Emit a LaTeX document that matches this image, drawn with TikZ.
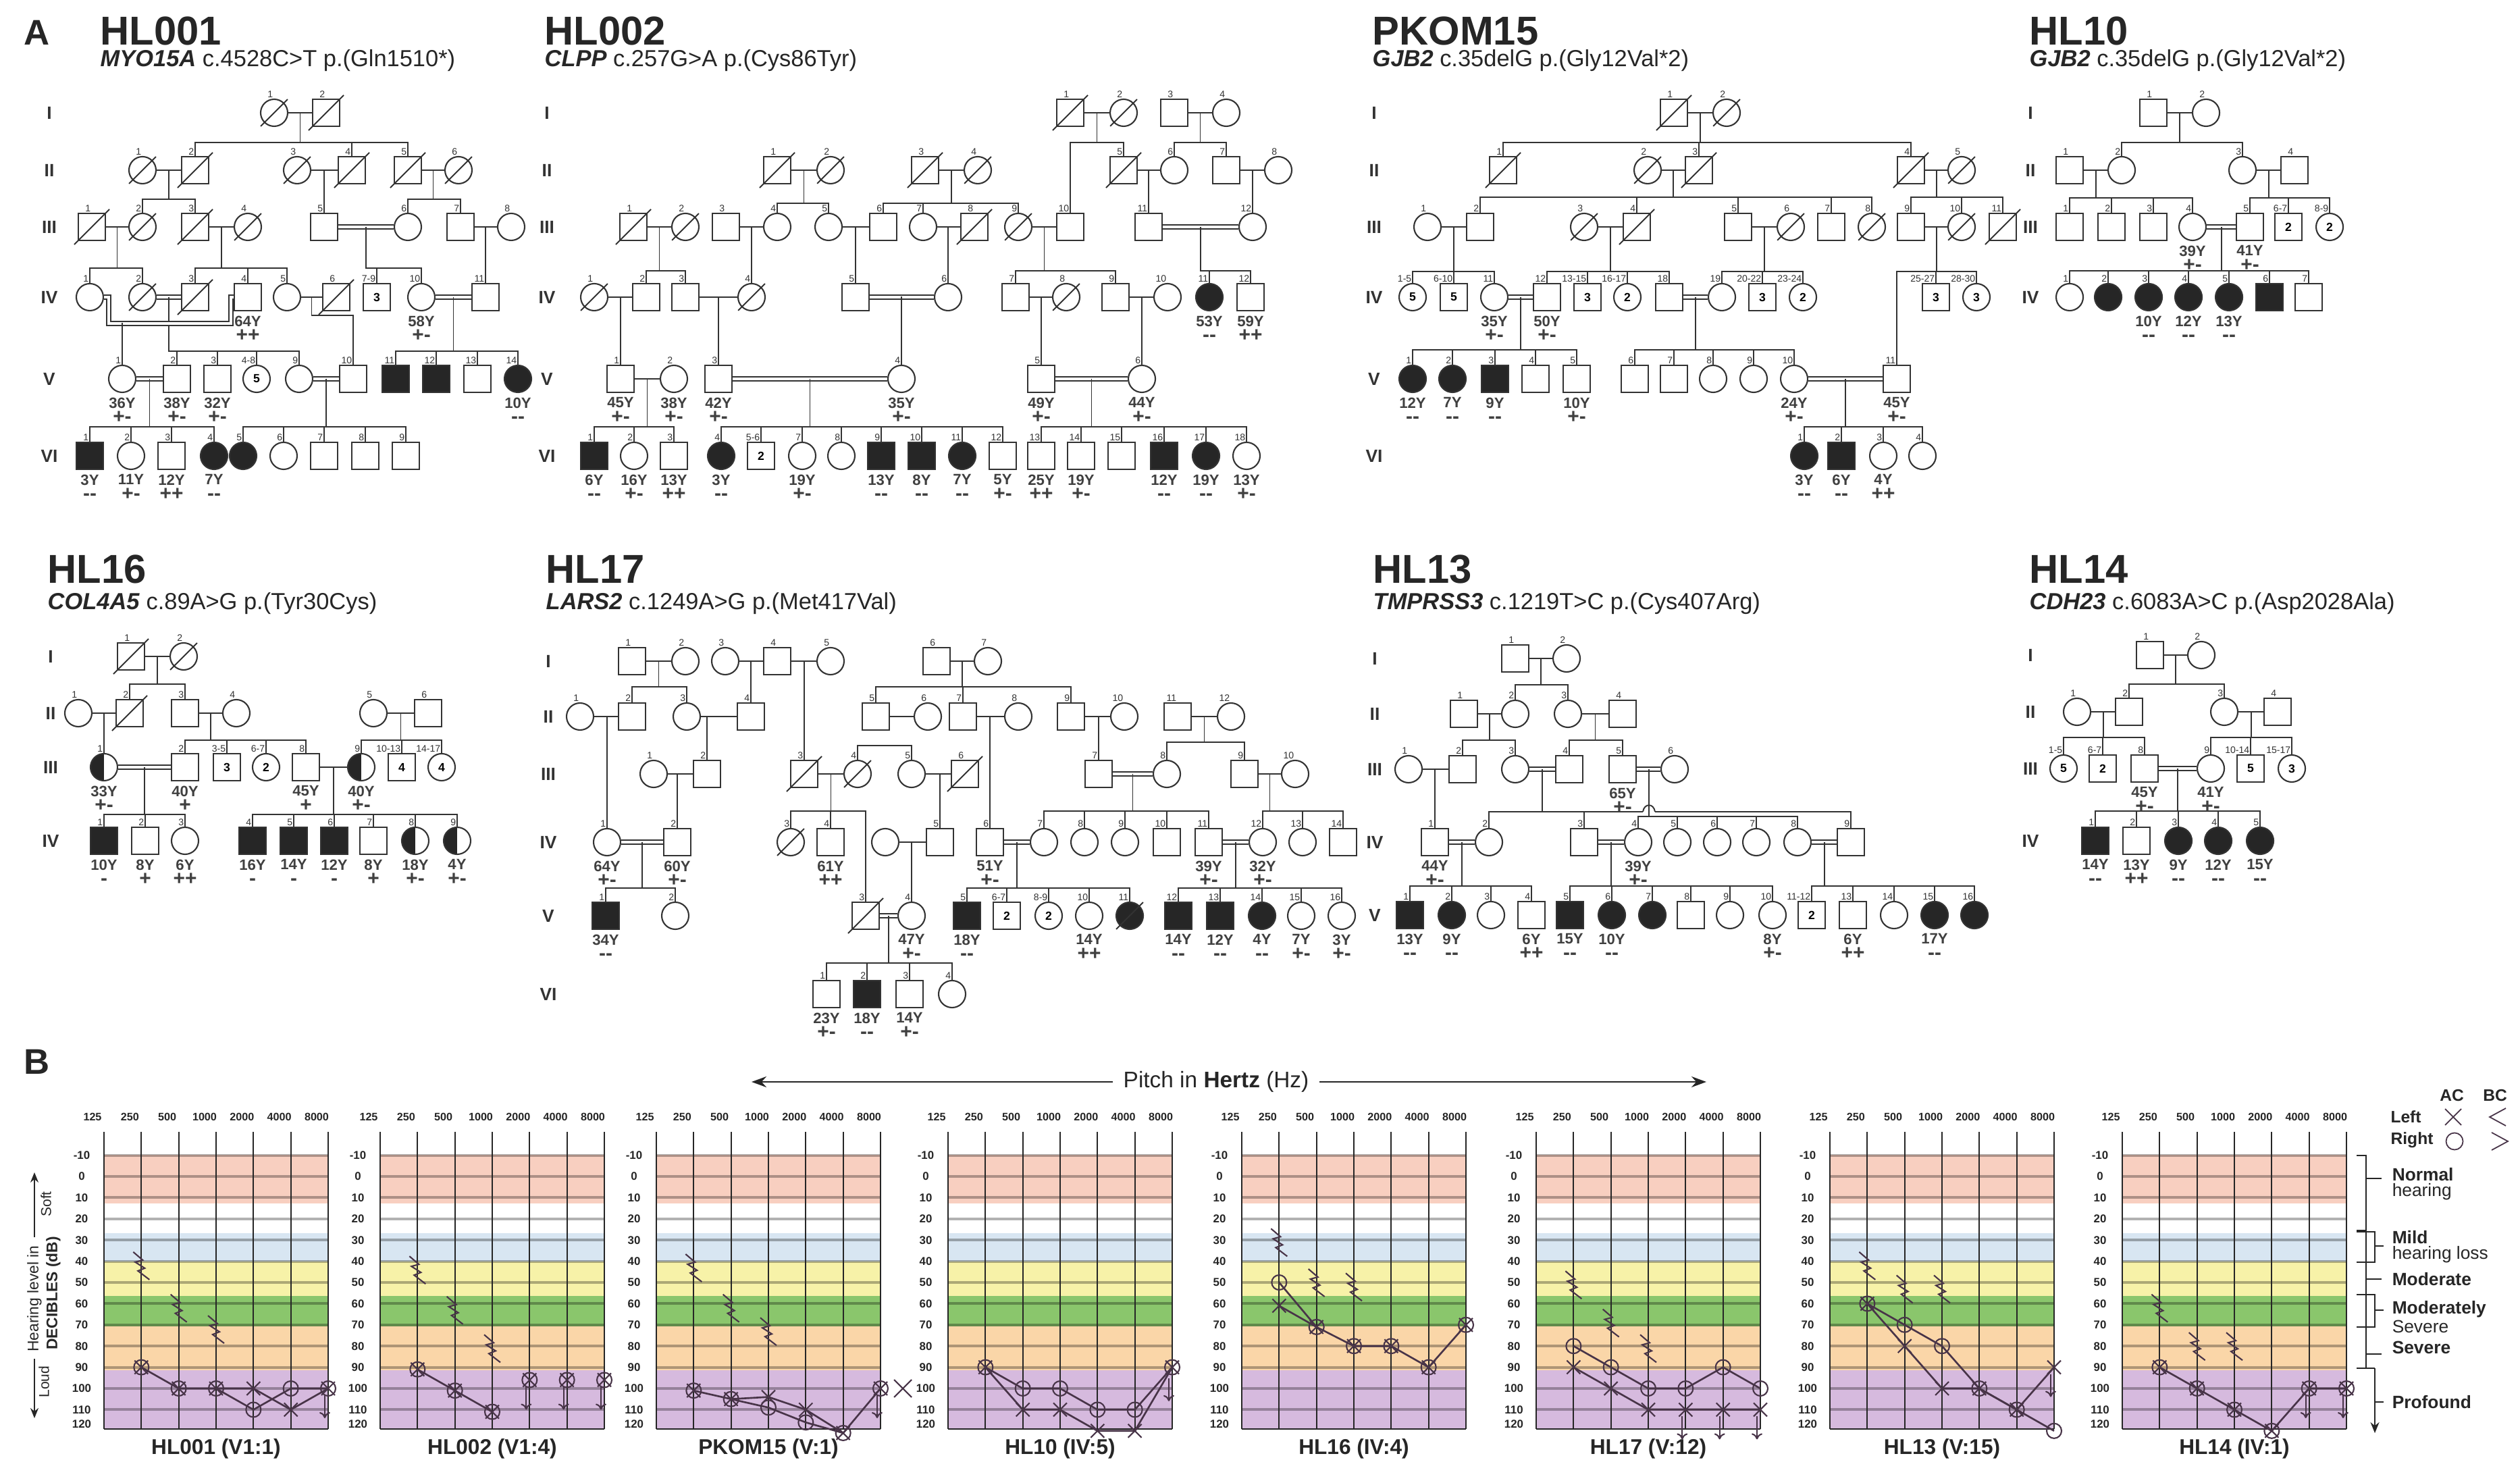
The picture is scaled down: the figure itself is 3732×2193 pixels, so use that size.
\documentclass[tikz,border=0pt]{standalone}
\usepackage{fontspec}
\setmainfont{Liberation Sans}
\usetikzlibrary{calc,arrows.meta}
\newcommand\fsz[1]{\fontsize{#1}{#1}\selectfont}
\definecolor{bpink}{RGB}{248,207,192}
\definecolor{bblue}{RGB}{216,230,242}
\definecolor{byel}{RGB}{247,242,168}
\definecolor{bgreen}{RGB}{138,198,108}
\definecolor{borange}{RGB}{250,214,168}
\definecolor{bpurp}{RGB}{214,186,222}
\definecolor{sy}{RGB}{72,52,72}
\tikzset{
 pl/.style={line width=0.55pt, draw=black!80},
 sq/.style={draw=black!80, rectangle, minimum size=4mm, inner sep=0pt, line width=0.6pt, font=\fsz{5}\bfseries},
 ci/.style={draw=black!80, circle, minimum size=4mm, inner sep=0pt, line width=0.6pt, font=\fsz{5}\bfseries},
 af/.style={fill=black!85},
 hl/.style={path picture={\fill[black!85] (path picture bounding box.south west) rectangle (path picture bounding box.north);}},
 nl/.style={font=\fsz{4}, inner sep=0.3pt, anchor=south east, text=black!80},
 agel/.style={font=\fsz{6.3}\bfseries, inner sep=0pt, anchor=north, align=center, text=black!75},
 gen/.style={font=\fsz{7.5}\bfseries, text=black!80},
 ttl/.style={font=\fsz{17}\bfseries, anchor=west, inner sep=0pt, text=black!85},
 sub/.style={font=\fsz{9.8}, anchor=west, inner sep=0pt, text=black!85},
 cons/.style={line width=0.45pt, draw=black!80, double=white, double distance=0.45mm},
 gridl/.style={draw=black, opacity=0.3, line width=1.1pt},
 vl/.style={draw=black!85, line width=0.55pt},
 fq/.style={font=\fsz{4.6}\bfseries, inner sep=0pt, text=black!85},
 db/.style={font=\fsz{4.8}\bfseries, inner sep=0pt, text=black!85},
 chcap/.style={font=\fsz{9}\bfseries, inner sep=0pt, text=black!85},
 sym/.style={draw=sy, line width=0.6pt},
 dl/.style={draw=sy, line width=0.75pt},
 lg/.style={font=\fsz{7}\bfseries, inner sep=0pt, text=black!85},
 brl/.style={font=\fontsize{7.5}{6.5}\selectfont, inner sep=0pt, anchor=west, align=left, text=black!85},
 brk/.style={line width=0.6pt, draw=black!85},
}
\newcommand\Ma[5][]{\node[sq,#1,label={[nl]north:#5}] (#2) at (#3,#4) {};}
\newcommand\Fe[5][]{\node[ci,#1,label={[nl]north:#5}] (#2) at (#3,#4) {};}
\newcommand\Mc[6][]{\node[sq,#1,label={[nl]north:#5}] (#2) at (#3,#4) {#6};}
\newcommand\Fc[6][]{\node[ci,#1,label={[nl]north:#5}] (#2) at (#3,#4) {#6};}
\newcommand\Dc[1]{\draw[pl] ([shift={(-5,5)}]#1.south west) -- ([shift={(5,-5)}]#1.north east);}
\newcommand\Ag[3]{\node[agel] (#1g) at ([yshift=-0.6mm]#1.south) {#2\\[0pt]{\fsz{8.5}\bfseries #3}};}
\newcommand\Mr[3]{\draw[pl] (#2) -- (#3); \coordinate (#1) at ($(#2)!0.5!(#3)$);}
\newcommand\Cm[3]{\draw[cons] (#2) -- (#3); \coordinate (#1) at ($(#2)!0.5!(#3)$);}
\newcommand\Kd[3]{\foreach \kk in {#3}{\draw[pl] (#1) -- ++(0,#2) -| (\kk.north);}}
\newcommand\Sg[2]{\draw[pl] (#1) -| (#2.north);}
\newcommand\Ro[2]{\draw[sym] (#1,#2) circle[radius=1.1mm];}
\newcommand\Lx[2]{\draw[sym] (#1,#2) ++(-1mm,-1mm) -- ++(2mm,2mm) (#1,#2) ++(-1mm,1mm) -- ++(2mm,-2mm);}
\newcommand\Bo[2]{\Ro{#1}{#2}\Lx{#1}{#2}}
\newcommand\Bc[2]{\draw[sym] (#1,#2) ++(-1.2mm,2.0mm) -- ++(1.4mm,-1.2mm) -- ++(-1.1mm,-0.3mm) -- ++(1.4mm,-0.9mm) -- ++(-1.0mm,-0.4mm) -- ++(1.7mm,-1.3mm);}
\newcommand\Da[2]{\draw[sym,-{To[length=0.9mm,width=1.6mm]}] (#1,#2) ++(-0.5mm,-1.0mm) -- ++(0,-3.4mm);}
\newcommand\Chart[3]{%
\begin{scope}[shift={(#1,0)}]
\fill[bpink] (0,1710) rectangle (332,1782);
\fill[bblue] (0,1826) rectangle (332,1868);
\fill[byel] (0,1868) rectangle (332,1919);
\fill[bgreen] (0,1919) rectangle (332,1964);
\fill[borange] (0,1964) rectangle (332,2029);
\fill[bpurp] (0,2029) rectangle (332,2116);
\foreach \dd in {-10,0,...,110} {\draw[gridl] (0,1742+3.14*\dd) -- (332,1742+3.14*\dd);}
\draw[vl] (0,2116) -- (332,2116);
\foreach \ii/\fq in {0/125,1/250,2/500,3/1000,4/2000,5/4000,6/8000} {\draw[vl] (\ii*55.333,1676) -- (\ii*55.333,2116); \node[fq] (#3f\ii) at (\ii*55.333-17,1654) {\fq};}
\foreach \dd in {-10,0,...,110} {\node[db] (#3d\dd) at (-33,1742+3.14*\dd) {\dd};}
\node[db] (#3d120) at (-33,2109) {120};
\node[chcap] (#3cap) at (166,2145) {#2};
\end{scope}}
\begin{document}
\begin{tikzpicture}[x=0.1mm,y=-0.1mm]
\fill[white] (0,0) rectangle (3732,2193);
\useasboundingbox (0,0) rectangle (3732,2193);
% ---------- titles ----------
\node[font=\fsz{15}\bfseries, text=black!85] (labA) at (55,48) {A};
\node[ttl] (t1) at (148,46) {HL001};
\node[sub] (s1) at (148,90) {\textbf{\textit{MYO15A}} c.4528C>T p.(Gln1510*)};
\node[ttl] (t2) at (806,46) {HL002};
\node[sub] (s2) at (806,90) {\textbf{\textit{CLPP}} c.257G>A p.(Cys86Tyr)};
\node[ttl] (t3) at (2032,46) {PKOM15};
\node[sub] (s3) at (2032,90) {\textbf{\textit{GJB2}} c.35delG p.(Gly12Val*2)};
\node[ttl] (t4) at (3005,46) {HL10};
\node[sub] (s4) at (3005,90) {\textbf{\textit{GJB2}} c.35delG p.(Gly12Val*2)};
\node[ttl] (t5) at (70,843) {HL16};
\node[sub] (s5) at (70,894) {\textbf{\textit{COL4A5}} c.89A>G p.(Tyr30Cys)};
\node[ttl] (t6) at (808,843) {HL17};
\node[sub] (s6) at (808,894) {\textbf{\textit{LARS2}} c.1249A>G p.(Met417Val)};
\node[ttl] (t7) at (2033,843) {HL13};
\node[sub] (s7) at (2033,894) {\textbf{\textit{TMPRSS3}} c.1219T>C p.(Cys407Arg)};
\node[ttl] (t8) at (3005,843) {HL14};
\node[sub] (s8) at (3005,894) {\textbf{\textit{CDH23}} c.6083A>C p.(Asp2028Ala)};
% generation labels
\foreach \gx/\gp in {73/a,810/b,2035/c,3007/d} {
 \foreach \gl/\gy in {I/167,II/252,III/336,IV/440} {\node[gen] (g\gp\gl) at (\gx,\gy) {\gl};}}
\foreach \gx/\gp in {73/a,810/b,2035/c} {
 \foreach \gl/\gy in {V/561,VI/675} {\node[gen] (g\gp\gl) at (\gx,\gy) {\gl};}}
\foreach \gl/\gy in {I/972,II/1056,III/1136,IV/1245} {\node[gen] (ge\gl) at (75,\gy) {\gl};}
\foreach \gl/\gy in {I/979,II/1061,III/1146,IV/1247,V/1356,VI/1472} {\node[gen] (gf\gl) at (812,\gy) {\gl};}
\foreach \gl/\gy in {I/975,II/1057,III/1139,IV/1247,V/1355} {\node[gen] (gg\gl) at (2036,\gy) {\gl};}
\foreach \gl/\gy in {I/970,II/1054,III/1138,IV/1245} {\node[gen] (gh\gl) at (3007,\gy) {\gl};}
% ================= HL001 =================
\Fe{a11}{406}{167}{1}\Dc{a11} \Ma{a12}{483}{167}{2}\Dc{a12}
\Fe{a21}{211}{252}{1}\Dc{a21} \Ma{a22}{289}{252}{2}\Dc{a22} \Fe{a23}{440}{252}{3}\Dc{a23}
\Ma{a24}{521}{252}{4}\Dc{a24} \Ma{a25}{604}{252}{5}\Dc{a25} \Fe{a26}{679}{252}{6}\Dc{a26}
\Ma{a31}{136}{336}{1}\Dc{a31} \Fe{a32}{211}{336}{2}\Dc{a32} \Ma{a33}{289}{336}{3}\Dc{a33}
\Fe{a34}{367}{336}{4}\Dc{a34} \Ma{a35}{480}{336}{5} \Fe{a36}{604}{336}{6} \Ma{a37}{682}{336}{7} \Fe{a38}{757}{336}{8}
\Fe{a41}{133}{440}{1} \Fe{a42}{211}{440}{2}\Dc{a42} \Ma{a43}{289}{440}{3}\Dc{a43} \Ma{a44}{367}{440}{4}
\Fe{a45}{425}{440}{5} \Ma{a46}{498}{440}{6}\Dc{a46} \Mc{a479}{558}{440}{7-9}{3} \Fe{a410}{624}{440}{10} \Ma{a411}{719}{440}{11}
\Fe{a51}{181}{561}{1} \Ma{a52}{262}{561}{2} \Ma{a53}{322}{561}{3} \Fc{a548}{380}{561}{4-8}{5} \Fe{a59}{443}{561}{9}
\Ma{a510}{523}{561}{10} \Ma[af]{a511}{586}{561}{11} \Ma[af]{a512}{646}{561}{12} \Ma{a513}{707}{561}{13} \Fe[af]{a514}{767}{561}{14}
\Ma[af]{a61}{133}{675}{1} \Fe{a62}{194}{675}{2} \Ma{a63}{254}{675}{3} \Fe[af]{a64}{317}{675}{4} \Fe[af]{a65}{360}{675}{5}
\Fe{a66}{420}{675}{6} \Ma{a67}{480}{675}{7} \Ma{a68}{541}{675}{8} \Ma{a69}{601}{675}{9}
\Mr{ma1}{a11}{a12} \Kd{ma1}{44}{a22,a24,a25}
\Mr{ma2a}{a21}{a22} \Kd{ma2a}{43}{a32,a33}
\Mr{ma2b}{a23}{a24} \Sg{ma2b}{a35}
\Mr{ma2c}{a25}{a26} \Kd{ma2c}{43}{a36,a37}
\Mr{ma3a}{a31}{a32} \Kd{ma3a}{61}{a41,a42}
\Mr{ma3b}{a33}{a34} \Kd{ma3b}{61}{a43,a44,a45}
\Cm{ma3c}{a35}{a36} \Kd{ma3c}{61}{a479,a410}
\Mr{ma3d}{a37}{a38} \Sg{ma3d}{a411}
\Cm{ma4a}{a42}{a43} \Kd{ma4a}{80}{a52,a53,a548,a59}
\coordinate (ma4b1) at (161,479); \coordinate (ma4b2) at (342,479); \coordinate (ma4b) at (182,479);
\draw[cons] (a41.east) -| (ma4b1) -- (ma4b2) |- (a44.west);
\Sg{ma4b}{a51}
\Mr{ma4c}{a45}{a46} \draw[pl] (ma4c) -- ++(0,27) -| (a510.north);
\Cm{ma4d}{a410}{a411} \Kd{ma4d}{80}{a511,a512,a513,a514}
\Cm{ma5a}{a51}{a52} \Kd{ma5a}{71}{a61,a62,a63,a64}
\Cm{ma5b}{a59}{a510} \Kd{ma5b}{71}{a65,a66,a67,a68,a69}
\Ag{a44}{64Y}{++} \Ag{a410}{58Y}{+-} \Ag{a51}{36Y}{+-} \Ag{a52}{38Y}{+-} \Ag{a53}{32Y}{+-}
\Ag{a514}{10Y}{-{}-} \Ag{a61}{3Y}{-{}-} \Ag{a62}{11Y}{+-} \Ag{a63}{12Y}{++} \Ag{a64}{7Y}{-{}-}
% ================= HL002 =================
\Ma{b11}{1585}{167}{1}\Dc{b11} \Fe{b12}{1664}{167}{2}\Dc{b12} \Ma{b13}{1739}{167}{3} \Fe{b14}{1816}{167}{4}
\Ma{b21}{1151}{252}{1}\Dc{b21} \Fe{b22}{1230}{252}{2}\Dc{b22} \Ma{b23}{1370}{252}{3}\Dc{b23} \Fe{b24}{1448}{252}{4}\Dc{b24}
\Ma{b25}{1664}{252}{5}\Dc{b25} \Fe{b26}{1739}{252}{6} \Ma{b27}{1816}{252}{7} \Fe{b28}{1893}{252}{8}
\Ma{b31}{938}{336}{1}\Dc{b31} \Fe{b32}{1015}{336}{2}\Dc{b32} \Ma{b33}{1075}{336}{3} \Fe{b34}{1151}{336}{4}
\Fe{b35}{1227}{336}{5} \Ma{b36}{1308}{336}{6} \Fe{b37}{1367}{336}{7} \Ma{b38}{1443}{336}{8}\Dc{b38}
\Fe{b39}{1508}{336}{9}\Dc{b39} \Ma{b310}{1585}{336}{10} \Ma{b311}{1701}{336}{11} \Fe{b312}{1855}{336}{12}
\Fe{b41}{880}{440}{1}\Dc{b41} \Ma{b42}{957}{440}{2} \Ma{b43}{1015}{440}{3} \Fe{b44}{1113}{440}{4}\Dc{b44}
\Ma{b45}{1267}{440}{5} \Fe{b46}{1404}{440}{6} \Ma{b47}{1504}{440}{7} \Fe{b48}{1579}{440}{8}\Dc{b48}
\Ma{b49}{1652}{440}{9} \Fe{b410}{1729}{440}{10} \Fe[af]{b411}{1791}{440}{11} \Ma{b412}{1852}{440}{12}
\Ma{b51}{919}{561}{1} \Fe{b52}{998}{561}{2} \Ma{b53}{1064}{561}{3} \Fe{b54}{1335}{561}{4} \Ma{b55}{1542}{561}{5} \Fe{b56}{1691}{561}{6}
\Ma[af]{b61}{880}{675}{1} \Fe{b62}{939}{675}{2} \Ma{b63}{998}{675}{3} \Fe[af]{b64}{1068}{675}{4} \Mc{b656}{1127}{675}{5-6}{2}
\Fe{b67}{1188}{675}{7} \Fe{b68}{1246}{675}{8} \Ma[af]{b69}{1305}{675}{9} \Ma[af]{b610}{1365}{675}{10} \Fe[af]{b611}{1425}{675}{11}
\Ma{b612}{1485}{675}{12} \Ma{b613}{1542}{675}{13} \Ma{b614}{1601}{675}{14} \Ma{b615}{1661}{675}{15} \Ma[af]{b616}{1724}{675}{16}
\Fe[af]{b617}{1786}{675}{17} \Fe{b618}{1846}{675}{18}
\Mr{mb1a}{b11}{b12} \Kd{mb1a}{44}{b310,b25}
\Mr{mb1b}{b13}{b14} \Kd{mb1b}{44}{b26,b27}
\Mr{mb2a}{b21}{b22} \Kd{mb2a}{49}{b34,b35}
\Mr{mb2b}{b23}{b24} \Kd{mb2b}{49}{b36,b37,b39}
\Mr{mb2c}{b25}{b26} \Sg{mb2c}{b311}
\Mr{mb2d}{b27}{b28} \Sg{mb2d}{b312}
\Mr{mb3a}{b31}{b32} \Kd{mb3a}{65}{b42,b43}
\Mr{mb3b}{b33}{b34} \Sg{mb3b}{b44}
\Mr{mb3c}{b35}{b36} \Sg{mb3c}{b45}
\Mr{mb3d}{b37}{b38} \Sg{mb3d}{b46}
\Mr{mb3e}{b39}{b310} \Kd{mb3e}{65}{b47,b49}
\Cm{mb3f}{b311}{b312} \Kd{mb3f}{65}{b411,b412}
\Mr{mb4a}{b41}{b42} \Sg{mb4a}{b51}
\Mr{mb4b}{b43}{b44} \Sg{mb4b}{b53}
\Cm{mb4c}{b45}{b46} \Sg{mb4c}{b54}
\Mr{mb4d}{b47}{b48} \Sg{mb4d}{b55}
\Mr{mb4e}{b49}{b410} \Sg{mb4e}{b56}
\Mr{mb5a}{b51}{b52} \Kd{mb5a}{71}{b61,b62,b63}
\Cm{mb5b}{b53}{b54} \Kd{mb5b}{71}{b64,b656,b67,b68,b69,b610,b611,b612}
\Cm{mb5c}{b55}{b56} \Kd{mb5c}{71}{b613,b614,b615,b616,b617,b618}
\Ag{b411}{53Y}{-{}-} \Ag{b412}{59Y}{++}
\Ag{b51}{45Y}{+-} \Ag{b52}{38Y}{+-} \Ag{b53}{42Y}{+-} \Ag{b54}{35Y}{+-} \Ag{b55}{49Y}{+-} \Ag{b56}{44Y}{+-}
\Ag{b61}{6Y}{-{}-} \Ag{b62}{16Y}{+-} \Ag{b63}{13Y}{++} \Ag{b64}{3Y}{-{}-} \Ag{b67}{19Y}{+-} \Ag{b69}{13Y}{-{}-}
\Ag{b610}{8Y}{-{}-} \Ag{b611}{7Y}{-{}-} \Ag{b612}{5Y}{+-} \Ag{b613}{25Y}{++} \Ag{b614}{19Y}{+-} \Ag{b616}{12Y}{-{}-}
\Ag{b617}{19Y}{-{}-} \Ag{b618}{13Y}{+-}
% ================= PKOM15 =================
\Ma{c11}{2479}{167}{1}\Dc{c11} \Fe{c12}{2557}{167}{2}\Dc{c12}
\Ma{c21}{2226}{252}{1}\Dc{c21} \Fe{c22}{2440}{252}{2}\Dc{c22} \Ma{c23}{2516}{252}{3}\Dc{c23} \Ma{c24}{2830}{252}{4}\Dc{c24} \Fe{c25}{2905}{252}{5}\Dc{c25}
\Fe{c31}{2114}{336}{1} \Ma{c32}{2192}{336}{2} \Fe{c33}{2346}{336}{3}\Dc{c33} \Ma{c34}{2424}{336}{4}\Dc{c34} \Ma{c35}{2574}{336}{5}
\Fe{c36}{2652}{336}{6}\Dc{c36} \Ma{c37}{2712}{336}{7} \Fe{c38}{2772}{336}{8}\Dc{c38} \Ma{c39}{2830}{336}{9} \Fe{c310}{2905}{336}{10}\Dc{c310} \Ma{c311}{2966}{336}{11}\Dc{c311}
\Fc{c415}{2092}{440}{1-5}{5} \Mc{c4610}{2153}{440}{6-10}{5} \Fe{c411}{2213}{440}{11} \Ma{c412}{2291}{440}{12} \Mc{c41315}{2351}{440}{13-15}{3}
\Fc{c41617}{2410}{440}{16-17}{2} \Ma{c418}{2472}{440}{18} \Fe{c419}{2550}{440}{19} \Mc{c42022}{2610}{440}{20-22}{3} \Fc{c42324}{2670}{440}{23-24}{2}
\Mc{c42527}{2867}{440}{25-27}{3} \Fc{c42830}{2927}{440}{28-30}{3}
\Fe[af]{c51}{2092}{561}{1} \Fe[af]{c52}{2151}{561}{2} \Ma[af]{c53}{2214}{561}{3} \Ma{c54}{2274}{561}{4} \Ma{c55}{2335}{561}{5}
\Ma{c56}{2421}{561}{6} \Ma{c57}{2479}{561}{7} \Fe{c58}{2537}{561}{8} \Fe{c59}{2597}{561}{9} \Fe{c510}{2657}{561}{10} \Ma{c511}{2809}{561}{11}
\Fe[af]{c61}{2672}{675}{1} \Ma[af]{c62}{2727}{675}{2} \Fe{c63}{2789}{675}{3} \Fe{c64}{2847}{675}{4}
\Mr{mc1}{c11}{c12} \Kd{mc1}{44}{c21,c23,c24}
\Mr{mc2a}{c22}{c23} \Kd{mc2a}{40}{c32,c34,c35,c37,c38}
\Mr{mc2b}{c24}{c25} \Kd{mc2b}{40}{c39,c310,c311}
\Mr{mc3a}{c31}{c32} \Kd{mc3a}{66}{c415,c4610,c411}
\Mr{mc3b}{c33}{c34} \Kd{mc3b}{66}{c412,c41315,c41617,c418}
\Mr{mc3c}{c35}{c36} \Kd{mc3c}{66}{c419,c42022,c42324}
\Mr{mc3d}{c39}{c310} \Kd{mc3d}{66}{c511,c42527,c42830}
\Cm{mc4a}{c411}{c412} \Kd{mc4a}{78}{c51,c52,c53,c54,c55}
\Cm{mc4b}{c418}{c419} \Kd{mc4b}{78}{c56,c57,c58,c59,c510}
\Cm{mc5}{c510}{c511} \Kd{mc5}{71}{c61,c62,c63,c64}
\Ag{c411}{35Y}{+-} \Ag{c412}{50Y}{+-} \Ag{c51}{12Y}{-{}-} \Ag{c52}{7Y}{-{}-} \Ag{c53}{9Y}{-{}-} \Ag{c55}{10Y}{+-}
\Ag{c510}{24Y}{+-} \Ag{c511}{45Y}{+-} \Ag{c61}{3Y}{-{}-} \Ag{c62}{6Y}{-{}-} \Ag{c63}{4Y}{++}
% ================= HL10 =================
\Ma{d11}{3189}{167}{1} \Fe{d12}{3267}{167}{2}
\Ma{d21}{3065}{252}{1} \Fe{d22}{3142}{252}{2} \Fe{d23}{3321}{252}{3} \Ma{d24}{3398}{252}{4}
\Ma{d31}{3065}{336}{1} \Ma{d32}{3127}{336}{2} \Ma{d33}{3189}{336}{3} \Fe{d34}{3247}{336}{4} \Ma{d35}{3332}{336}{5}
\Mc{d367}{3389}{336}{6-7}{2} \Fc{d389}{3450}{336}{8-9}{2}
\Fe{d41}{3065}{440}{1} \Fe[af]{d42}{3122}{440}{2} \Fe[af]{d43}{3182}{440}{3} \Fe[af]{d44}{3241}{440}{4} \Fe[af]{d45}{3301}{440}{5}
\Ma[af]{d46}{3361}{440}{6} \Ma{d47}{3419}{440}{7}
\Mr{md1}{d11}{d12} \Kd{md1}{44}{d22,d23}
\Mr{md2a}{d21}{d22} \Kd{md2a}{41}{d31,d32,d33,d34}
\Mr{md2b}{d23}{d24} \Kd{md2b}{41}{d35,d367,d389}
\Cm{md3}{d34}{d35} \Kd{md3}{65}{d41,d42,d43,d44,d45,d46,d47}
\Ag{d34}{39Y}{+-} \Ag{d35}{41Y}{+-} \Ag{d43}{10Y}{-{}-} \Ag{d44}{12Y}{-{}-} \Ag{d45}{13Y}{-{}-}
% ================= HL16 =================
\Ma{e11}{194}{972}{1}\Dc{e11} \Fe{e12}{272}{972}{2}\Dc{e12}
\Fe{e21}{116}{1056}{1} \Ma{e22}{192}{1056}{2}\Dc{e22} \Ma{e23}{274}{1056}{3} \Fe{e24}{350}{1056}{4} \Fe{e25}{553}{1056}{5} \Ma{e26}{634}{1056}{6}
\Fe[hl]{e31}{154}{1136}{1} \Ma{e32}{274}{1136}{2} \Mc{e335}{336}{1136}{3-5}{3} \Fc{e367}{394}{1136}{6-7}{2} \Ma{e38}{453}{1136}{8}
\Fe[hl]{e39}{535}{1136}{9} \Mc{e31013}{595}{1136}{10-13}{4} \Fc{e31417}{654}{1136}{14-17}{4}
\Ma[af]{e41}{154}{1245}{1} \Ma{e42}{215}{1245}{2} \Fe{e43}{274}{1245}{3} \Ma[af]{e44}{374}{1245}{4} \Ma[af]{e45}{435}{1245}{5}
\Ma[af]{e46}{495}{1245}{6} \Ma{e47}{553}{1245}{7} \Fe[hl]{e48}{615}{1245}{8} \Fe[hl]{e49}{677}{1245}{9}
\Mr{me1}{e11}{e12} \Kd{me1}{41}{e22,e23}
\Mr{me2a}{e21}{e22} \Sg{me2a}{e31}
\Mr{me2b}{e23}{e24} \Kd{me2b}{40}{e32,e335,e367,e38}
\Mr{me2c}{e25}{e26} \Kd{me2c}{40}{e39,e31013,e31417}
\Cm{me3a}{e31}{e32} \Kd{me3a}{70}{e41,e42,e43}
\Mr{me3b}{e38}{e39} \Kd{me3b}{70}{e44,e45,e46,e47,e48,e49}
\Ag{e31}{33Y}{+-} \Ag{e32}{40Y}{+} \Ag{e38}{45Y}{+} \Ag{e39}{40Y}{+-}
\Ag{e41}{10Y}{-} \Ag{e42}{8Y}{+} \Ag{e43}{6Y}{++} \Ag{e44}{16Y}{-} \Ag{e45}{14Y}{-} \Ag{e46}{12Y}{-}
\Ag{e47}{8Y}{+} \Ag{e48}{18Y}{+-} \Ag{e49}{4Y}{+-}
% ================= HL17 =================
\Ma{f11}{936}{979}{1} \Fe{f12}{1015}{979}{2} \Fe{f13}{1074}{979}{3} \Ma{f14}{1151}{979}{4} \Fe{f15}{1230}{979}{5} \Ma{f16}{1387}{979}{6} \Fe{f17}{1463}{979}{7}
\Fe{f21}{859}{1061}{1} \Ma{f22}{936}{1061}{2} \Fe{f23}{1017}{1061}{3} \Ma{f24}{1112}{1061}{4} \Ma{f25}{1297}{1061}{5} \Fe{f26}{1374}{1061}{6}
\Ma{f27}{1426}{1061}{7} \Fe{f28}{1508}{1061}{8} \Ma{f29}{1586}{1061}{9} \Fe{f210}{1665}{1061}{10} \Ma{f211}{1744}{1061}{11} \Fe{f212}{1823}{1061}{12}
\Fe{f31}{968}{1146}{1} \Ma{f32}{1047}{1146}{2} \Ma{f33}{1191}{1146}{3}\Dc{f33} \Fe{f34}{1270}{1146}{4}\Dc{f34} \Fe{f35}{1350}{1146}{5}
\Ma{f36}{1429}{1146}{6}\Dc{f36} \Ma{f37}{1627}{1146}{7} \Fe{f38}{1728}{1146}{8} \Ma{f39}{1843}{1146}{9} \Fe{f310}{1918}{1146}{10}
\Fe{f41}{899}{1247}{1} \Ma{f42}{1003}{1247}{2} \Fe{f43}{1171}{1247}{3}\Dc{f43} \Ma{f44}{1230}{1247}{4} \Fe{f4x}{1311}{1247}{}
\Ma{f45}{1392}{1247}{5} \Ma{f46}{1466}{1247}{6} \Fe{f47}{1546}{1247}{7} \Fe{f48}{1606}{1247}{8} \Fe{f49}{1666}{1247}{9}
\Ma{f410}{1728}{1247}{10} \Ma{f411}{1790}{1247}{11} \Fe{f412}{1870}{1247}{12} \Fe{f413}{1929}{1247}{13} \Ma{f414}{1989}{1247}{14}
\Ma[af]{f51}{897}{1356}{1} \Fe{f52}{1000}{1356}{2} \Ma{f53}{1282}{1356}{3}\Dc{f53} \Fe{f54}{1350}{1356}{4} \Ma[af]{f55}{1432}{1356}{5}
\Mc{f567}{1491}{1356}{6-7}{2} \Fc{f589}{1553}{1356}{8-9}{2} \Fe{f510}{1613}{1356}{10} \Fe[af]{f511}{1673}{1356}{11}\Dc{f511}
\Ma[af]{f512}{1745}{1356}{12} \Ma[af]{f513}{1807}{1356}{13} \Fe[af]{f514}{1869}{1356}{14} \Fe{f515}{1927}{1356}{15} \Fe{f516}{1987}{1356}{16}
\Ma{f61}{1224}{1472}{1} \Ma[af]{f62}{1284}{1472}{2} \Ma{f63}{1347}{1472}{3} \Fe{f64}{1410}{1472}{4}
\Mr{mf1a}{f11}{f12} \Kd{mf1a}{38}{f22,f23}
\Mr{mf1b}{f13}{f14} \Sg{mf1b}{f24}
\Mr{mf1c}{f14}{f15} \Sg{mf1c}{f33}
\Mr{mf1d}{f16}{f17} \Kd{mf1d}{38}{f25,f27,f29}
\Mr{mf2a}{f21}{f22} \Sg{mf2a}{f41}
\Mr{mf2b}{f23}{f24} \Sg{mf2b}{f32}
\Mr{mf2c}{f25}{f26}
\Mr{mf2d}{f27}{f28} \Sg{mf2d}{f46}
\Mr{mf2e}{f29}{f210} \Sg{mf2e}{f37}
\Mr{mf2f}{f211}{f212} \Kd{mf2f}{38}{f38,f39}
\draw[pl] (f34.north) -- ++(0,-21) -| (f35.north);
\Mr{mf3a}{f31}{f32} \Sg{mf3a}{f42}
\Mr{mf3b}{f33}{f34} \Kd{mf3b}{55}{f43,f44,f53}
\Mr{mf3c}{f35}{f36} \Sg{mf3c}{f45}
\Cm{mf3d}{f37}{f38} \Kd{mf3d}{55}{f47,f48,f49,f410,f411}
\Mr{mf3e}{f39}{f310} \Kd{mf3e}{55}{f412,f413,f414}
\Cm{mf4a}{f41}{f42} \Kd{mf4a}{68}{f51,f52}
\Mr{mf4b}{f4x}{f45} \Sg{mf4b}{f54}
\Cm{mf4c}{f46}{f47} \Kd{mf4c}{68}{f55,f567,f589,f510,f511}
\Cm{mf4d}{f411}{f412} \Kd{mf4d}{68}{f512,f513,f514,f515,f516}
\Cm{mf5}{f53}{f54} \Kd{mf5}{70}{f61,f62,f63,f64}
\Ag{f41}{64Y}{+-} \Ag{f42}{60Y}{+-} \Ag{f44}{61Y}{++} \Ag{f46}{51Y}{+-} \Ag{f411}{39Y}{+-} \Ag{f412}{32Y}{+-}
\Ag{f51}{34Y}{-{}-} \Ag{f54}{47Y}{+-} \Ag{f55}{18Y}{-{}-} \Ag{f510}{14Y}{++} \Ag{f512}{14Y}{-{}-} \Ag{f513}{12Y}{-{}-}
\Ag{f514}{4Y}{-{}-} \Ag{f515}{7Y}{+-} \Ag{f516}{3Y}{+-}
\Ag{f61}{23Y}{+-} \Ag{f62}{18Y}{-{}-} \Ag{f63}{14Y}{+-}
% ================= HL13 =================
\Ma{g11}{2244}{975}{1} \Fe{g12}{2320}{975}{2}
\Ma{g21}{2168}{1057}{1} \Fe{g22}{2244}{1057}{2} \Fe{g23}{2322}{1057}{3} \Ma{g24}{2403}{1057}{4}
\Fe{g31}{2086}{1139}{1} \Ma{g32}{2166}{1139}{2} \Fe{g33}{2244}{1139}{3} \Ma{g34}{2324}{1139}{4} \Ma{g35}{2403}{1139}{5} \Fe{g36}{2480}{1139}{6}
\Ma{g41}{2125}{1247}{1} \Fe{g42}{2205}{1247}{2} \Ma{g43}{2346}{1247}{3} \Fe{g44}{2426}{1247}{4} \Fe{g45}{2484}{1247}{5}
\Fe{g46}{2543}{1247}{6} \Fe{g47}{2601}{1247}{7} \Fe{g48}{2662}{1247}{8} \Ma{g49}{2741}{1247}{9}
\Ma[af]{g51}{2088}{1355}{1} \Fe[af]{g52}{2150}{1355}{2} \Fe{g53}{2208}{1355}{3} \Ma{g54}{2268}{1355}{4} \Ma[af]{g55}{2325}{1355}{5}
\Fe[af]{g56}{2387}{1355}{6} \Fe[af]{g57}{2447}{1355}{7} \Ma{g58}{2504}{1355}{8} \Fe{g59}{2562}{1355}{9} \Fe{g510}{2625}{1355}{10}
\Mc{g51112}{2683}{1355}{11-12}{2} \Ma{g513}{2744}{1355}{13} \Fe{g514}{2805}{1355}{14} \Fe[af]{g515}{2865}{1355}{15} \Fe[af]{g516}{2924}{1355}{16}
\Mr{mg1}{g11}{g12} \Kd{mg1}{39}{g22,g23}
\Mr{mg2a}{g21}{g22} \Kd{mg2a}{39}{g32,g33}
\Mr{mg2b}{g23}{g24} \Kd{mg2b}{39}{g34,g35}
\Mr{mg3a}{g31}{g32} \Sg{mg3a}{g41}
\Cm{mg3b}{g33}{g34} \Kd{mg3b}{63}{g42,g43,g49}
\fill[white] (2433,1199) rectangle (2451,1205);
\draw[pl] (2433,1202) .. controls (2435,1189) and (2449,1189) .. (2451,1202);
\Cm{mg3c}{g35}{g36} \Kd{mg3c}{70}{g44,g45,g46,g47,g48}
\Cm{mg4a}{g41}{g42} \Kd{mg4a}{65}{g51,g52,g53,g54}
\Cm{mg4b}{g43}{g44} \Kd{mg4b}{65}{g55,g56,g57,g58,g59,g510}
\Cm{mg4c}{g48}{g49} \Kd{mg4c}{65}{g51112,g513,g514,g515,g516}
\Ag{g35}{65Y}{+-} \Ag{g41}{44Y}{+-} \Ag{g44}{39Y}{+-}
\Ag{g51}{13Y}{-{}-} \Ag{g52}{9Y}{-{}-} \Ag{g54}{6Y}{++} \Ag{g55}{15Y}{-{}-} \Ag{g56}{10Y}{-{}-}
\Ag{g510}{8Y}{+-} \Ag{g513}{6Y}{++} \Ag{g515}{17Y}{-{}-}
% ================= HL14 =================
\Ma{h11}{3184}{970}{1} \Fe{h12}{3260}{970}{2}
\Fe{h21}{3076}{1054}{1} \Ma{h22}{3153}{1054}{2} \Fe{h23}{3294}{1054}{3} \Ma{h24}{3373}{1054}{4}
\Fc{h315}{3056}{1138}{1-5}{5} \Mc{h367}{3114}{1138}{6-7}{2} \Ma{h38}{3176}{1138}{8} \Fe{h39}{3274}{1138}{9}
\Mc{h31014}{3333}{1138}{10-14}{5} \Fc{h31517}{3394}{1138}{15-17}{3}
\Ma[af]{h41}{3103}{1245}{1} \Ma{h42}{3164}{1245}{2} \Fe[af]{h43}{3226}{1245}{3} \Fe[af]{h44}{3285}{1245}{4} \Fe[af]{h45}{3347}{1245}{5}
\Mr{mh1}{h11}{h12} \Kd{mh1}{43}{h22,h23}
\Mr{mh2a}{h21}{h22} \Kd{mh2a}{38}{h315,h367,h38}
\Mr{mh2b}{h23}{h24} \Kd{mh2b}{38}{h39,h31014,h31517}
\Cm{mh3}{h38}{h39} \Kd{mh3}{63}{h41,h42,h43,h44,h45}
\Ag{h38}{45Y}{+-} \Ag{h39}{41Y}{+-} \Ag{h41}{14Y}{-{}-} \Ag{h42}{13Y}{++} \Ag{h43}{9Y}{-{}-} \Ag{h44}{12Y}{-{}-} \Ag{h45}{15Y}{-{}-}
% ================= B: audiograms =================
\node[font=\fsz{15}\bfseries, text=black!85] (labB) at (55,1572) {B};
\node[font=\fsz{9.5}, inner sep=0pt, text=black!85] (pitch) at (1801,1602) {Pitch in \textbf{Hertz} (Hz)};
\coordinate (pitchL) at (1113,1602); \coordinate (pitchR) at (2527,1602);
\draw[line width=0.8pt, black!85, -{Stealth[length=2.2mm,width=1.6mm]}] (pitch.west) ++(-15,0) -- (pitchL);
\draw[line width=0.8pt, black!85, -{Stealth[length=2.2mm,width=1.6mm]}] (pitch.east) ++(15,0) -- (pitchR);
% left axis
\coordinate (axT) at (51,1736); \coordinate (axT2) at (51,1832); \coordinate (axB) at (51,2100); \coordinate (axB2) at (51,2012);
\draw[line width=0.6pt, black!85, -{Stealth[length=1.5mm,width=1.2mm]}] (axT2) -- (axT);
\draw[line width=0.6pt, black!85, -{Stealth[length=1.5mm,width=1.2mm]}] (axB2) -- (axB);
\node[rotate=90, font=\fsz{6}, text=black!85, inner sep=0pt] (axSoft) at (68,1783) {Soft};
\node[rotate=90, font=\fsz{6.5}, text=black!85, inner sep=0pt] (axH) at (51,1923) {Hearing level in};
\node[rotate=90, font=\fsz{6.5}\bfseries, text=black!85, inner sep=0pt] (axD) at (79,1915) {DECIBLES (dB)};
\node[rotate=90, font=\fsz{6}, text=black!85, inner sep=0pt] (axLoud) at (65,2046) {Loud};
% charts
\Chart{154}{HL001 (V1:1)}{ch1}
\Chart{563}{HL002 (V1:4)}{ch2}
\Chart{972}{PKOM15 (V:1)}{ch3}
\Chart{1404}{HL10 (IV:5)}{ch4}
\Chart{1839}{HL16 (IV:4)}{ch5}
\Chart{2275}{HL17 (V:12)}{ch6}
\Chart{2710}{HL13 (V:15)}{ch7}
\Chart{3143}{HL14 (IV:1)}{ch8}
% data 1
\begin{scope}[shift={(154,1742)},x=5.5333mm,y=-0.314mm]
\draw[dl] (1,90)--(2,100)--(3,100)--(4,110)--(5,100)--(6,100);
\draw[dl] (3,100)--(4,100)--(5,110)--(6,100);
\Bo{1}{90}\Bo{2}{100}\Bo{3}{100}\Bo{6}{100}\Ro{4}{110}\Ro{5}{100}\Lx{4}{100}\Lx{5}{110}
\Bc{1}{42}\Bc{2}{62}\Bc{3}{72}\Da{6}{100}
\end{scope}
% data 2
\begin{scope}[shift={(563,1742)},x=5.5333mm,y=-0.314mm]
\draw[dl] (1,91)--(2,101)--(3,111);
\Bo{1}{91}\Bo{2}{101}\Bo{3}{111}\Bo{4}{96}\Bo{5}{96}\Bo{6}{96}
\Bc{1}{44}\Bc{2}{63}\Bc{3}{81}\Da{4}{96}\Da{5}{96}\Da{6}{96}
\end{scope}
% data 3
\begin{scope}[shift={(972,1742)},x=5.5333mm,y=-0.314mm]
\draw[dl] (1,101)--(2,105)--(3,109)--(4,116)--(5,121)--(6,100);
\draw[dl] (2,105)--(3,104)--(4,110)--(5,121);
\Bo{1}{101}\Bo{2}{105}\Ro{3}{109}\Ro{4}{116}\Bo{5}{121}\Bo{6}{100}\Lx{3}{104}\Lx{4}{110}
\Bc{1}{43}\Bc{2}{62}\Bc{3}{73}\Da{6}{100}
\draw[sym] (6.6,100) ++(-1.3mm,-1.3mm) -- ++(2.6mm,2.6mm) (6.6,100) ++(-1.3mm,1.3mm) -- ++(2.6mm,-2.6mm);
\end{scope}
% data 4
\begin{scope}[shift={(1404,1742)},x=5.5333mm,y=-0.314mm]
\draw[dl] (1,90)--(2,100)--(3,100)--(4,110)--(5,110)--(6,90);
\draw[dl] (1,90)--(2,110)--(3,110)--(4,120)--(5,120)--(6,90);
\Bo{1}{90}\Bo{6}{90}\Ro{2}{100}\Ro{3}{100}\Ro{4}{110}\Ro{5}{110}\Lx{2}{110}\Lx{3}{110}\Lx{4}{120}\Lx{5}{120}
\Da{6}{92}
\end{scope}
% data 5
\begin{scope}[shift={(1839,1742)},x=5.5333mm,y=-0.314mm]
\draw[dl] (1,50)--(2,71)--(3,80)--(4,80)--(5,90)--(6,70);
\draw[dl] (1,61)--(2,71);
\Ro{1}{50}\Lx{1}{61}\Bo{2}{71}\Bo{3}{80}\Bo{4}{80}\Bo{5}{90}\Bo{6}{70}
\Bc{1}{31}\Bc{2}{50}\Bc{3}{52}
\end{scope}
% data 6
\begin{scope}[shift={(2275,1742)},x=5.5333mm,y=-0.314mm]
\draw[dl] (1,80)--(2,90)--(3,100)--(4,100)--(5,90)--(6,100);
\draw[dl] (1,90)--(2,100)--(3,110)--(4,110)--(5,110)--(6,110);
\Ro{1}{80}\Ro{2}{90}\Ro{3}{100}\Ro{4}{100}\Ro{5}{90}\Ro{6}{100}
\Lx{1}{90}\Lx{2}{100}\Lx{3}{110}\Lx{4}{110}\Lx{5}{110}\Lx{6}{110}
\Bc{1}{51}\Bc{2}{69}\Bc{3}{81}\Da{4}{110}\Da{5}{110}\Da{6}{110}
\end{scope}
% data 7
\begin{scope}[shift={(2710,1742)},x=5.5333mm,y=-0.314mm]
\draw[dl] (1,60)--(2,70)--(3,80)--(4,100)--(5,110)--(6,120);
\draw[dl] (1,60)--(2,80)--(3,100)--(4,100)--(5,110)--(6,90);
\Bo{1}{60}\Ro{2}{70}\Ro{3}{80}\Bo{4}{100}\Bo{5}{110}\Ro{6}{120}\Lx{2}{80}\Lx{3}{100}\Lx{6}{90}
\Bc{1}{42}\Bc{2}{53}\Bc{3}{53}\Da{6}{90}
\end{scope}
% data 8
\begin{scope}[shift={(3143,1742)},x=5.5333mm,y=-0.314mm]
\draw[dl] (1,90)--(2,100)--(3,110)--(4,120)--(5,100)--(6,100);
\Bo{1}{90}\Bo{2}{100}\Bo{3}{110}\Bo{4}{120}\Bo{5}{100}\Bo{6}{100}
\Bc{1}{62}\Bc{2}{80}\Bc{3}{80}\Da{5}{100}\Da{6}{100}
\end{scope}
% legend
\node[lg] (lgAC) at (3631,1622) {AC};
\node[lg] (lgBC) at (3695,1622) {BC};
\node[lg] (lgL) at (3563,1654) {Left};
\node[lg] (lgR) at (3572,1688) {Right};
\draw[sym, line width=0.5pt] (3621,1642) -- (3645,1666) (3621,1666) -- (3645,1642);
\draw[sym, line width=0.5pt] (3711,1641) -- (3687,1654) -- (3711,1667);
\draw[sym, line width=0.5pt] (3635,1690) circle[radius=1.25mm];
\draw[sym, line width=0.5pt] (3690,1677) -- (3714,1690) -- (3690,1703);
% brackets
\draw[brk] (3490,1711) -- (3504,1711) -- (3504,2026);
\draw[brk] (3504,1745) -- (3527,1745) (3504,1894) -- (3527,1894) (3504,2005) -- (3527,2005);
\draw[brk] (3490,1822) -- (3504,1822);
\draw[brk] (3490,1824) -- (3517,1824) -- (3517,1869) -- (3490,1869) (3517,1845) -- (3530,1845);
\draw[brk] (3490,1917) -- (3517,1917) -- (3517,1965) -- (3490,1965) (3517,1940) -- (3530,1940);
\draw[brk] (3490,2026) -- (3517,2026) (3517,2076) -- (3530,2076);
\draw[brk, -{Stealth[length=1.6mm,width=1.3mm]}] (3517,2026) -- (3517,2122);
\node[brl] (brN) at (3542,1753) {\textbf{Normal}\\hearing};
\node[brl] (brM) at (3542,1846) {\textbf{Mild}\\hearing loss};
\node[brl] (brMo) at (3542,1894) {\textbf{Moderate}};
\node[brl] (brMs) at (3542,1950) {\textbf{Moderately}\\Severe};
\node[brl] (brS) at (3542,1995) {\textbf{Severe}};
\node[brl] (brP) at (3542,2076) {\textbf{Profound}};
\end{tikzpicture}
\end{document}
